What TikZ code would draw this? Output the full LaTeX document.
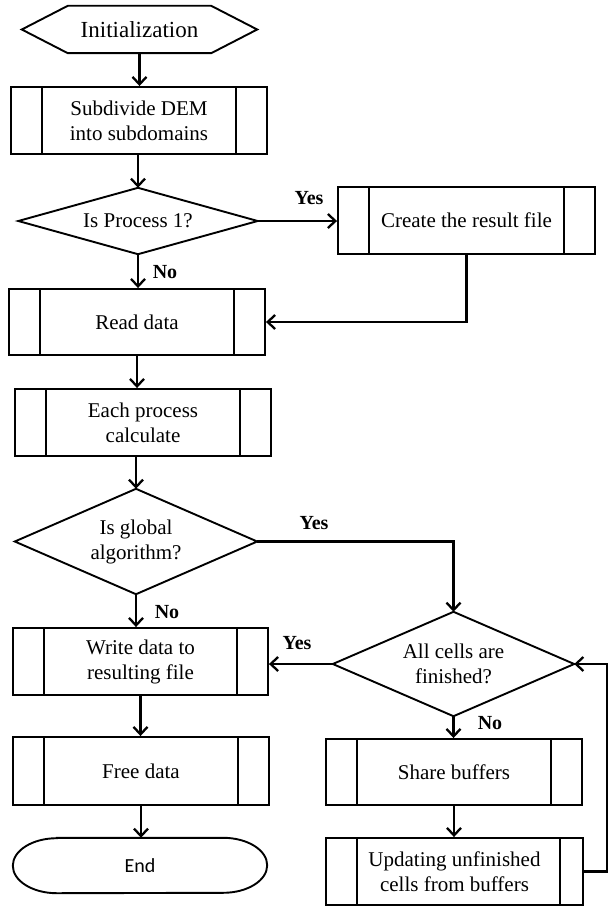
\documentclass[tikz,border=0pt]{standalone}
\usepackage{fontspec}
\setmainfont{Liberation Serif}
\newfontfamily\endfont{Carlito}
\usetikzlibrary{arrows.meta}
\begin{document}
\begin{tikzpicture}[x=1pt,y=-1pt,
  every node/.style={font=\fontsize{21}{25}\selectfont, align=center, inner sep=0pt},
  shp/.style={line width=1.9pt, line join=miter},
  proc/.style={draw, line width=1.9pt, minimum height=67pt},
  bar/.style={line width=1.9pt},
  arr/.style={line width=2.3pt, -{Straight Barb[length=7.5pt,width=14pt,line width=2.3pt]}},
  lab/.style={font=\fontsize{20}{24}\selectfont\bfseries}]
\useasboundingbox (0,0) rectangle (610,907);

% nodes
\node[minimum width=235pt, minimum height=47pt, font=\fontsize{23}{27}\selectfont] (init) at (139.5,29.5) {Initialization};
\draw[shp] (init.west) -- ([xshift=46pt]init.north west) -- ([xshift=-46pt]init.north east) -- (init.east) -- ([xshift=-46pt]init.south east) -- ([xshift=46pt]init.south west) -- cycle;

\node[proc, minimum width=256pt] (sub) at (139,120.5) {Subdivide DEM\\into subdomains};

\node[minimum width=239pt, minimum height=66pt] (d1) at (138,221) {Is Process 1?};
\draw[shp] (d1.west) -- (d1.north) -- (d1.east) -- (d1.south) -- cycle;

\node[proc, minimum width=257pt] (create) at (466.5,220.5) {Create the result file};
\node[proc, minimum width=256pt, minimum height=66pt] (read) at (137,322) {Read data};
\node[proc, minimum width=256pt] (each) at (143,422.5) {Each process\\calculate};

\node[minimum width=242pt, minimum height=105pt] (d2) at (136,541.5) {Is global\\algorithm?};
\draw[shp] (d2.west) -- (d2.north) -- (d2.east) -- (d2.south) -- cycle;

\node[minimum width=241pt, minimum height=104pt] (d3) at (453.5,664) {All cells are\\finished?};
\draw[shp] (d3.west) -- (d3.north) -- (d3.east) -- (d3.south) -- cycle;

\node[proc, minimum width=255pt] (write) at (140.5,661.5) {Write data to\\resulting file};
\node[proc, minimum width=256pt, minimum height=68pt] (free) at (141,771) {Free data};

\node[minimum width=254pt, minimum height=55pt, font=\endfont\fontsize{20}{24}\selectfont] (end) at (140,865.5) {End};
\draw[shp] ([xshift=44pt]end.north west) -- ([xshift=-44pt]end.north east)
  arc[start angle=90, end angle=-90, x radius=44pt, y radius=27.5pt]
  -- ([xshift=44pt]end.south west)
  arc[start angle=270, end angle=90, x radius=44pt, y radius=27.5pt] -- cycle;

\node[proc, minimum width=256pt, minimum height=66pt] (share) at (454,772) {Share buffers};
\node[proc, minimum width=257pt] (upd) at (454.5,871.5) {Updating unfinished\\cells from buffers};

% inner bars of predefined-process boxes
\foreach \n in {sub,create,read,each,write,free,share}
  \draw[bar] ([xshift=32pt]\n.north west) -- ([xshift=32pt]\n.south west)
             ([xshift=-32pt]\n.north east) -- ([xshift=-32pt]\n.south east);
\draw[bar] ([xshift=32pt]upd.north west) -- ([xshift=32pt]upd.south west)
           ([xshift=-24pt]upd.north east) -- ([xshift=-24pt]upd.south east);

% connectors
\coordinate (loop) at (607,664);
\draw[arr] (init.south) -- (init.south |- sub.north);
\draw[arr] (d1.north |- sub.south) -- (d1.north);
\draw[arr] (d1.east) -- (d1.east -| create.west);
\draw[arr] (d1.south) -- (d1.south |- read.north);
\draw[arr] (create.south) |- (read.east);
\draw[arr] (read.south) -- (read.south |- each.north);
\draw[arr] (d2.north |- each.south) -- (d2.north);
\draw[arr] (d2.east) -| (d3.north);
\draw[arr] (d2.south) -- (d2.south |- write.north);
\draw[arr] (d3.west) -- (d3.west -| write.east);
\draw[arr] (write.south) -- (write.south |- free.north);
\draw[arr] (free.south) -- (free.south |- end.north);
\draw[arr] (d3.south) -- (d3.south |- share.north);
\draw[arr] (share.south) -- (share.south |- upd.north);
\draw[arr] (upd.east) -| (loop) -- (d3.east);

% labels
\node[lab] (y1) at (309,198) {Yes};
\node[lab] (n1) at (165,272) {No};
\node[lab] (y2) at (314,523) {Yes};
\node[lab] (n2) at (167,612) {No};
\node[lab] (y3) at (297,643) {Yes};
\node[lab] (n3) at (490,723) {No};
\end{tikzpicture}
\end{document}
